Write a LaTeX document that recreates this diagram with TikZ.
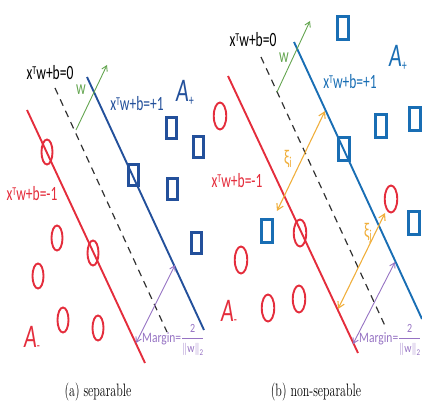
\documentclass[tikz,border=0pt]{standalone}
\usepackage{fontspec}
\usepackage{amsmath}
\newfontfamily\lab{Carlito}
\usetikzlibrary{arrows.meta,shapes.geometric}
\definecolor{svmred}{RGB}{228,45,60}
\definecolor{blueL}{RGB}{35,80,155}
\definecolor{blueR}{RGB}{25,110,180}
\definecolor{svmgreen}{RGB}{100,165,80}
\definecolor{svmpurple}{RGB}{150,115,195}
\definecolor{svmorange}{RGB}{240,175,60}
\definecolor{dashgray}{RGB}{50,50,50}
\newcommand{\vs}[2][1.5]{\scalebox{1}[#1]{#2}}
\newcommand{\supT}{\raisebox{3.5pt}{\fontsize{8}{8}\selectfont T}}
\newcommand{\marginfrac}{$\dfrac{\text{\fontsize{10}{10}\selectfont 2}}{\text{\fontsize{10}{10}\selectfont$\|$w$\|$\raisebox{-2pt}{\fontsize{7}{7}\selectfont 2}}}$}
\begin{document}
\begin{tikzpicture}[x=1pt,y=-1pt,
  redline/.style={draw=svmred,line width=1.9pt},
  blueLline/.style={draw=blueL,line width=1.9pt},
  blueRline/.style={draw=blueR,line width=1.9pt},
  zeroline/.style={draw=dashgray,line width=1.2pt,dash pattern=on 7pt off 5.5pt},
  warrow/.style={draw=svmgreen,line width=0.9pt,-{Straight Barb[length=5pt,width=6pt]}},
  marrow/.style={draw=svmpurple,line width=0.9pt,{Straight Barb[length=5pt,width=6pt]}-{Straight Barb[length=5pt,width=6pt]}},
  xarrow/.style={draw=svmorange,line width=1.1pt,{Straight Barb[length=6pt,width=7pt]}-{Straight Barb[length=6pt,width=7pt]}},
  negL/.style={ellipse,draw=svmred,line width=1.9pt,minimum width=11pt,minimum height=25pt,inner sep=0pt},
  negR/.style={ellipse,draw=svmred,line width=1.9pt,minimum width=12.5pt,minimum height=27pt,inner sep=0pt},
  posL/.style={rectangle,draw=blueL,line width=3pt,minimum width=10pt,minimum height=21pt,inner sep=0pt},
  posR/.style={rectangle,draw=blueR,line width=3pt,minimum width=10.5pt,minimum height=23pt,inner sep=0pt},
  lbl/.style={inner sep=0pt,font=\lab\fontsize{13.5}{15}\selectfont},
  bigA/.style={inner sep=0pt,font=\lab\itshape\fontsize{22}{24}\selectfont},
  mlbl/.style={inner sep=0pt,anchor=west,text=svmpurple,font=\lab\fontsize{11.5}{14}\selectfont},
  captxt/.style={inner sep=0pt,font=\fontsize{12}{14}\selectfont}
]
\path[use as bounding box] (0,0) rectangle (422,406);

% ---------------- (a) separable ----------------
\coordinate (ar1) at (27,110);  \coordinate (ar2) at (145,363);
\coordinate (az1) at (55,88);   \coordinate (az2) at (167,332);
\coordinate (ab1) at (87,77);   \coordinate (ab2) at (204,330);
\draw[redline] (ar1) -- (ar2);
\draw[zeroline] (az1) -- (az2);
\draw[blueLline] (ab1) -- (ab2);
\coordinate (aw1) at (76,130); \coordinate (aw2) at (107,65);
\draw[warrow] (aw1) -- (aw2);
\coordinate (am1) at (136,343); \coordinate (am2) at (175,265);
\draw[marrow] (am1) -- (am2);

\node[posL] (ap1) at (171,128) {};
\node[posL] (ap2) at (198,147) {};
\node[posL] (ap3) at (133,175) {};
\node[posL] (ap4) at (172,189) {};
\node[posL] (ap5) at (196,243) {};

\node[negL] (an1) at (47,152) {};
\node[negL] (an2) at (57,238) {};
\node[negL] (an3) at (93,253) {};
\node[negL] (an4) at (38,276) {};
\node[negL] (an5) at (63,320) {};
\node[negL] (an6) at (98,328) {};

\node[lbl,text=black] (al0) at (50,73) {\vs{x\supT w+b=0}};
\node[lbl,text=svmgreen] (alw) at (81,90) {\vs{w}};
\node[lbl,text=blueL] (alp) at (137,104) {\vs{x\supT w+b=+1}};
\node[lbl,text=svmred] (aln) at (32,194) {\vs{x\supT w+b=-1}};
\node[bigA,text=blueL] (aAp) at (185,93) {\vs{A\raisebox{-3pt}{\upshape\fontsize{10}{10}\selectfont +}}};
\node[bigA,text=svmred] (aAn) at (32,338) {\vs{A\raisebox{-2pt}{\upshape\fontsize{10}{10}\selectfont -}}};
\node[mlbl] (aml) at (142,340) {\vs[1.25]{Margin=\marginfrac}};
\node[captxt] (acap) at (98,392) {\vs{(a) separable}};

% ---------------- (b) non-separable ----------------
\coordinate (br1) at (228,76);  \coordinate (br2) at (358,353);
\coordinate (bz1) at (261,57);  \coordinate (bz2) at (386,328);
\coordinate (bb1) at (294,42);  \coordinate (bb2) at (422,319);
\draw[redline] (br1) -- (br2);
\draw[zeroline] (bz1) -- (bz2);
\draw[blueRline] (bb1) -- (bb2);
\coordinate (bw1) at (277,92); \coordinate (bw2) at (310,21);
\draw[warrow] (bw1) -- (bw2);
\coordinate (bm1) at (353,344); \coordinate (bm2) at (395,262);
\draw[marrow] (bm1) -- (bm2);

\node[posR] (bp1) at (343,28) {};
\node[posR] (bp2) at (381,126) {};
\node[posR] (bp3) at (415,119) {};
\node[posR] (bp4) at (344,149) {};
\node[posR] (bp5) at (267,231) {};
\node[posR] (bp6) at (414,223) {};

\node[negR] (bn1) at (220,116) {};
\node[negR] (bn2) at (391,199) {};
\node[negR] (bn3) at (300,233) {};
\node[negR] (bn4) at (241,260) {};
\node[negR] (bn5) at (268,308) {};
\node[negR] (bn6) at (299,299) {};

\coordinate (bxi1) at (277,211); \coordinate (bxi2) at (325,111);
\draw[xarrow] (bxi1) -- (bxi2);
\coordinate (bxj1) at (385,213); \coordinate (bxj2) at (338,309);
\draw[xarrow] (bxj1) -- (bxj2);

\node[lbl,text=black] (bl0) at (253,40) {\vs{x\supT w+b=0}};
\node[lbl,text=svmgreen] (blw) at (284,58) {\vs{w}};
\node[lbl,text=blueR] (blp) at (350,82) {\vs{x\supT w+b=+1}};
\node[lbl,text=svmred] (bln) at (237,181) {\vs{x\supT w+b=-1}};
\node[bigA,text=blueR] (bAp) at (398,58) {\vs{A\raisebox{-3pt}{\upshape\fontsize{10}{10}\selectfont +}}};
\node[bigA,text=svmred] (bAn) at (229,312) {\vs{A\raisebox{-2pt}{\upshape\fontsize{10}{10}\selectfont -}}};
\node[lbl,text=svmorange,font=\lab\fontsize{14}{16}\selectfont] (bxil) at (288,159) {\vs{ξ\raisebox{-2pt}{\fontsize{10}{10}\selectfont i}}};
\node[lbl,text=svmorange,font=\lab\fontsize{14}{16}\selectfont] (bxjl) at (368,233) {\vs{ξ\raisebox{-2pt}{\fontsize{10}{10}\selectfont j}}};
\node[mlbl] (bml) at (359,340) {\vs[1.25]{Margin=\marginfrac}};
\node[captxt] (bcap) at (316,392) {\vs{(b) non-separable}};
\end{tikzpicture}
\end{document}
